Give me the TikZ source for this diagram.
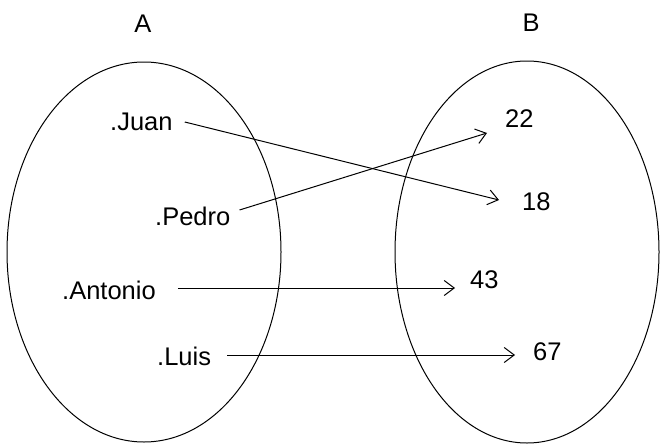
\documentclass[tikz,border=0pt]{standalone}
\usepackage{fontspec}
\setmainfont{Liberation Sans}
\usetikzlibrary{arrows.meta,calc}
\tikzset{
  lbl/.style={inner sep=0pt, font=\fontsize{25.5}{30}\selectfont},
  setline/.style={line width=1pt},
  arr/.style={line width=1pt, -{Straight Barb[length=10pt,width=15pt,line width=1pt]}}
}
\begin{document}
\begin{tikzpicture}[x=1pt,y=-1pt]
\useasboundingbox (0,0) rectangle (660,444);
\fill[white] (0,0) rectangle (660,444);
% sets
\draw[setline] (144,252) ellipse [x radius=137pt, y radius=190pt];
\draw[setline] (527,252) ellipse [x radius=132pt, y radius=191pt];
% set names
\node[lbl, anchor=base] (A) at (143,33) {A};
\node[lbl, anchor=base] (B) at (531,32) {B};
% elements of A
\node[lbl, anchor=base west] (juan) at (110,130) {.Juan};
\node[lbl, anchor=base west] (pedro) at (155,225) {.Pedro};
\node[lbl, anchor=base west] (antonio) at (62,299) {.Antonio};
\node[lbl, anchor=base west] (luis) at (157,365) {.Luis};
% elements of B
\node[lbl, anchor=base west] (n22) at (505,127) {22};
\node[lbl, anchor=base west] (n18) at (522,210) {18};
\node[lbl, anchor=base west] (n43) at (470,288) {43};
\node[lbl, anchor=base west] (n67) at (533,360) {67};
% mapping
\draw[arr] ($(juan.base east)+(12,-8)$) -- ($(n18.base west)+(-23,-10)$);
\draw[arr] ($(pedro.base east)+(9,-15)$) -- ($(n22.base west)+(-18,6)$);
\draw[arr] ($(antonio.base east)+(22,-11)$) -- ($(n43.base west)+(-15,0)$);
\draw[arr] ($(luis.base east)+(16,-10)$) -- ($(n67.base west)+(-18,-5)$);
\end{tikzpicture}
\end{document}
